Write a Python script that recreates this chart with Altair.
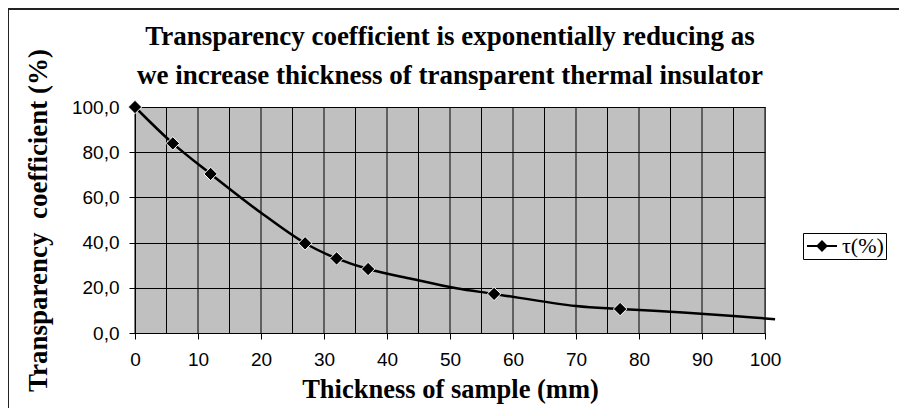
import altair as alt
import pandas as pd

# Smooth curve
curve_x = [0, 6, 12, 20, 27, 32, 37, 44, 51, 57, 70, 77, 87, 95, 101.6]
curve_y = [100, 83.9, 70.4, 53.2, 39.7, 33.0, 28.3, 23.9, 19.8, 17.3, 11.9, 10.6, 9.1, 7.5, 6.1]

# Measured points (markers)
marker_x = [0, 6, 12, 27, 32, 37, 57, 77]
marker_y = [100, 83.9, 70.4, 39.7, 33.0, 28.3, 17.3, 10.6]

series_name = "τ(%)"
x_label_ticks = list(range(0, 101, 10))
x_grid = list(range(0, 101, 5))
y_ticks = [0, 20, 40, 60, 80, 100]

curve = pd.DataFrame({"x": curve_x, "y": curve_y})
markers = pd.DataFrame({"x": marker_x, "y": marker_y, "series": [series_name] * len(marker_x)})
grid = pd.DataFrame({"x": x_grid})

x_scale = alt.Scale(domain=[0, 100], nice=False, zero=False)
y_scale = alt.Scale(domain=[0, 100], nice=False)

x_axis = alt.Axis(
    values=x_label_ticks,
    grid=False,
    domainColor="black", domainWidth=1, tickColor="black", tickSize=6,
    labelFont="Liberation Sans", labelFontSize=19, labelColor="black", labelPadding=11,
    labelFlush=False, labelOverlap=False,
    title="Thickness of sample (mm)", titleFont="Liberation Serif", titleFontSize=26.5,
    titleFontWeight="bold", titleColor="black", titleY=64, titleBaseline="alphabetic",
)
y_axis = alt.Axis(
    values=y_ticks,
    labelExpr="replace(format(datum.value, '.1f'), '.', ',')",
    grid=True, gridColor="black", gridOpacity=1, gridWidth=1,
    domainColor="black", domainWidth=1, tickColor="black", tickSize=6,
    labelFont="Liberation Sans", labelFontSize=19, labelColor="black", labelPadding=10,
    labelFlush=False, labelOverlap=False,
    title="Transparency\u00a0 coefficient (%)", titleFont="Liberation Serif", titleFontSize=27,
    titleFontWeight="bold", titleColor="black", titleX=-89, titleBaseline="alphabetic",
)

frame = alt.Chart(pd.DataFrame({"a": [0]})).mark_rect(
    filled=False, stroke="#222222", strokeWidth=2
).encode(x=alt.value(-127), x2=alt.value(1000), y=alt.value(-98), y2=alt.value(500))

vgrid = alt.Chart(grid).mark_rule(color="black", strokeWidth=1).encode(
    x=alt.X("x:Q", scale=x_scale, axis=x_axis)
)

line = alt.Chart(curve).mark_line(
    color="black", strokeWidth=2.5, interpolate="catmull-rom"
).encode(
    x=alt.X("x:Q", scale=x_scale, axis=x_axis),
    y=alt.Y("y:Q", scale=y_scale, axis=y_axis),
)

points = alt.Chart(markers).mark_point(
    shape="diamond", filled=True, size=180, stroke="white", strokeWidth=1, opacity=1
).encode(
    x=alt.X("x:Q", scale=x_scale),
    y=alt.Y("y:Q", scale=y_scale),
    color=alt.Color(
        "series:N",
        scale=alt.Scale(range=["black"]),
        legend=alt.Legend(
            title=None, orient="none", legendX=668, legendY=126,
            symbolType="M-1.5,0H1.5M0,-0.45L0.45,0L0,0.45L-0.45,0Z",
            symbolSize=400, symbolOffset=6, symbolStrokeColor="black", symbolFillColor="black",
            symbolStrokeWidth=2, labelFont="Liberation Serif", labelFontSize=22,
            labelExpr="datum.label + '\u00a0\u00a0\u00a0\u00a0'",
            labelColor="black", labelOffset=9, padding=2, strokeColor="black",
            fillColor="white",
        ),
    ),
)

chart = alt.layer(frame, vgrid, line, points).properties(
    width=630,
    height=226,
    background="white",
    autosize=alt.AutoSizeParams(type="none"),
    padding={"left": 127, "top": 99, "right": 134, "bottom": 75},
    title=alt.TitleParams(
        ["Transparency coefficient is exponentially reducing as",
         "we increase thickness of transparent thermal insulator"],
        font="Liberation Serif", fontSize=27, fontWeight="bold", color="black",
        lineHeight=39, anchor="middle", offset=0, dy=82,
    ),
).configure_view(
    fill="#C0C0C0", stroke="#808080", strokeWidth=1
)

chart.save("out.html", embed_options={"renderer": "svg", "actions": False})
